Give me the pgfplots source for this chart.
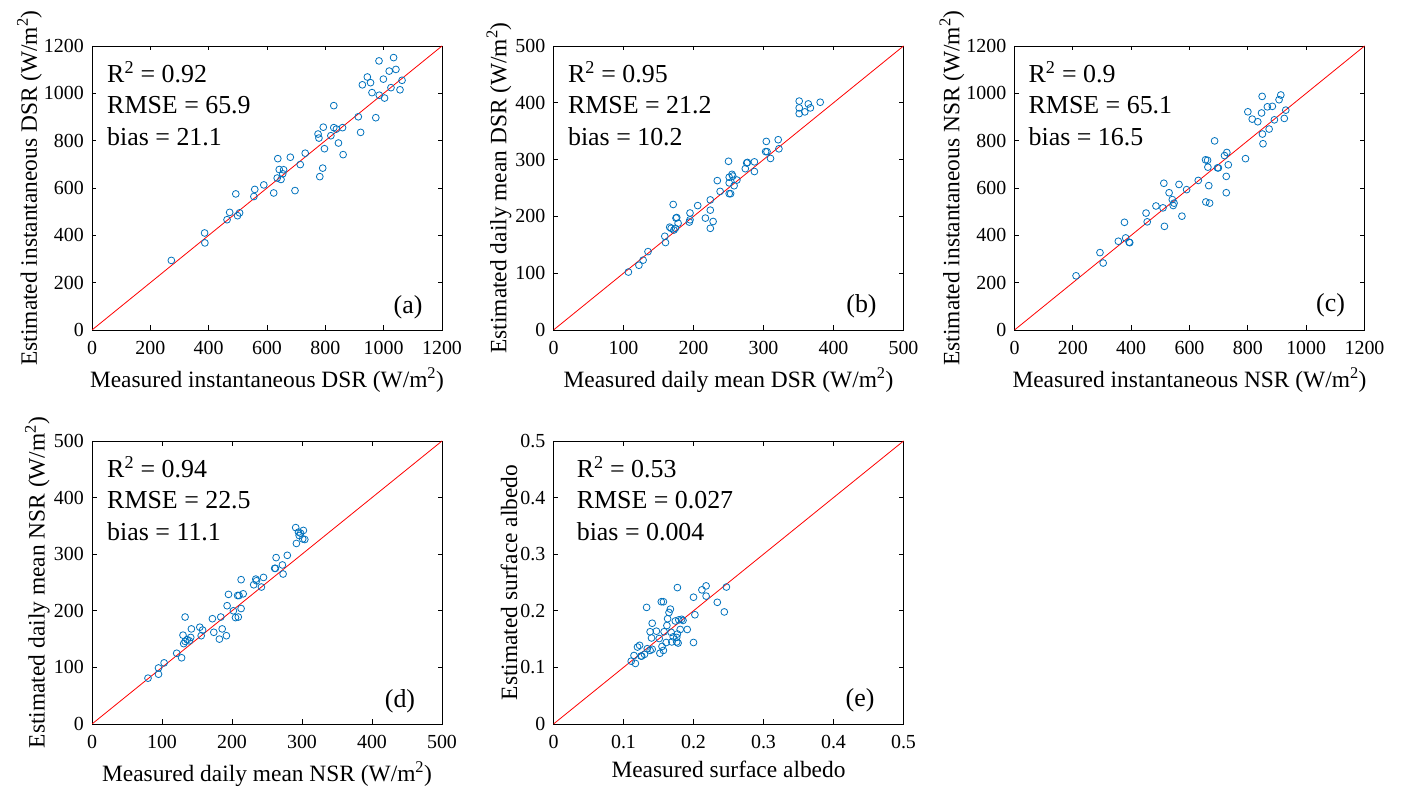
\documentclass[border=0pt]{standalone}
\usepackage{fontspec}
\setmainfont{Liberation Serif}
\usepackage{pgfplots}
\pgfplotsset{compat=1.18}
\definecolor{mblue}{RGB}{0,114,189}

\pgfplotsset{
  sc/.style={
    width=350bp, scale only axis,
    tick align=inside, tick pos=both,
    major tick length=4.5bp,
    axis line style={line width=0.9bp},
    xtick style={draw=black, line width=0.9bp},
    ytick style={draw=black, line width=0.9bp},
    /pgf/number format/assume math mode=true,
    /pgf/number format/1000 sep={},
    tick label style={font=\fontsize{20}{24}\selectfont},
    xticklabel style={inner sep=0pt, yshift=-11bp},
    yticklabel style={inner sep=0pt, xshift=-8bp},
    label style={font=\fontsize{23.5}{28}\selectfont},
    xlabel style={at={(axis description cs:0.5,0)}, yshift=-37bp, anchor=north, inner sep=0pt},
    ylabel style={at={(axis description cs:0,0.5)}, anchor=south, inner sep=0pt},
  },
  sd/.style={only marks, mark=o, mark size=3.4bp, mark options={mblue, line width=0.8bp}},
  ol/.style={red, line width=0.8bp, no marks},
}
\tikzset{
  ann/.style={anchor=base west, font=\fontsize{26}{30}\selectfont, inner sep=0pt},
  tag/.style={anchor=center, font=\fontsize{26}{30}\selectfont, inner sep=0pt},
}

\begin{document}
\begin{tikzpicture}
% (a)
\begin{axis}[sc, at={(92bp,461bp)}, anchor=south west, height=284bp,
  xmin=0, xmax=1200, ymin=0, ymax=1200,
  xtick={0,200,...,1200}, ytick={0,200,...,1200},
  xlabel={Measured instantaneous DSR (W/m\textsuperscript{2})},
  ylabel={Estimated instantaneous DSR (W/m\textsuperscript{2})},
  ylabel style={yshift=50bp}]
\addplot[sd] coordinates {
(272,294) (386,410) (387,368) (463,466) (472,497) (493,575) (499,483) (506,495)
(555,564) (558,594) (589,613) (623,579) (635,642) (637,724) (642,678) (648,636)
(657,677) (654,660) (680,730) (696,589) (714,699) (731,747) (775,828) (778,811)
(781,648) (791,684) (793,857) (797,766) (819,821) (829,948) (829,855) (838,849)
(845,790) (859,855) (861,741) (913,901) (921,835) (927,1036) (944,1069) (955,1045)
(960,1003) (973,897) (984,1137) (985,992) (999,1060) (1003,980) (1019,1094) (1025,1024)
(1034,1151) (1042,1101) (1056,1015) (1063,1055)
};
\addplot[ol] coordinates {(0,0) (1200,1200)};
\node[ann] at (rel axis cs:0.043,0.870) {R\textsuperscript{2} = 0.92};
\node[ann] at (rel axis cs:0.043,0.761) {RMSE = 65.9};
\node[ann] at (rel axis cs:0.043,0.648) {bias = 21.1};
\node[tag] at (rel axis cs:0.903,0.081) {(a)};
\end{axis}
% (b)
\begin{axis}[sc, at={(553.5bp,461bp)}, anchor=south west, height=284bp,
  xmin=0, xmax=500, ymin=0, ymax=500,
  xtick={0,100,...,500}, ytick={0,100,...,500},
  xlabel={Measured daily mean DSR (W/m\textsuperscript{2})},
  ylabel={Estimated daily mean DSR (W/m\textsuperscript{2})},
  ylabel style={yshift=42bp}]
\addplot[sd] coordinates {
(107,102) (122,114) (128,123) (135,138) (159,165) (160,154) (166,181) (168,179)
(171,221) (172,176) (174,179) (175,197) (176,198) (178,188) (194,190) (195,206)
(195,194) (206,219) (217,197) (224,229) (224,211) (224,179) (228,191) (234,263)
(238,244) (250,297) (251,240) (251,269) (251,259) (253,240) (255,274) (256,271)
(258,254) (262,264) (274,284) (276,294) (277,295) (287,296) (287,279) (304,332)
(303,314) (305,314) (310,302) (321,335) (322,319) (351,403) (351,391) (351,381)
(359,384) (364,398) (367,391) (381,401)
};
\addplot[ol] coordinates {(0,0) (500,500)};
\node[ann] at (rel axis cs:0.041,0.870) {R\textsuperscript{2} = 0.95};
\node[ann] at (rel axis cs:0.041,0.761) {RMSE = 21.2};
\node[ann] at (rel axis cs:0.041,0.648) {bias = 10.2};
\node[tag] at (rel axis cs:0.880,0.082) {(b)};
\end{axis}
% (c)
\begin{axis}[sc, at={(1014.5bp,461bp)}, anchor=south west, height=284bp,
  xmin=0, xmax=1200, ymin=0, ymax=1200,
  xtick={0,200,...,1200}, ytick={0,200,...,1200},
  xlabel={Measured instantaneous NSR (W/m\textsuperscript{2})},
  ylabel={Estimated instantaneous NSR (W/m\textsuperscript{2})},
  ylabel style={yshift=50bp}]
\addplot[sd] coordinates {
(211,229) (293,327) (304,283) (356,375) (377,455) (381,389) (393,371) (395,369)
(451,494) (455,457) (485,524) (509,516) (512,620) (514,438) (530,580) (541,551)
(544,526) (547,536) (564,615) (574,481) (590,593) (630,632) (655,719) (662,717)
(656,541) (663,688) (666,610) (669,536) (686,799) (696,685) (699,685) (720,737)
(728,750) (726,649) (726,580) (733,698) (792,724) (800,922) (815,891) (834,880)
(847,917) (849,987) (850,828) (852,787) (867,943) (873,849) (884,945) (891,888)
(907,973) (913,993) (925,894) (930,929)
};
\addplot[ol] coordinates {(0,0) (1200,1200)};
\node[ann] at (rel axis cs:0.040,0.870) {R\textsuperscript{2} = 0.9};
\node[ann] at (rel axis cs:0.040,0.761) {RMSE = 65.1};
\node[ann] at (rel axis cs:0.040,0.648) {bias = 16.5};
\node[tag] at (rel axis cs:0.903,0.088) {(c)};
\end{axis}
% (d)
\begin{axis}[sc, at={(92bp,67bp)}, anchor=south west, height=283bp,
  xmin=0, xmax=500, ymin=0, ymax=500,
  xtick={0,100,...,500}, ytick={0,100,...,500},
  xlabel={Measured daily mean NSR (W/m\textsuperscript{2})},
  ylabel={Estimated daily mean NSR (W/m\textsuperscript{2})},
  ylabel style={yshift=42bp}]
\addplot[sd] coordinates {
(80,81) (95,99) (95,88) (103,108) (121,125) (128,117) (130,157) (133,189)
(131,142) (133,146) (136,149) (139,147) (141,153) (142,168) (154,171) (156,156)
(158,166) (172,186) (174,162) (182,150) (184,189) (186,168) (192,156) (193,209)
(195,229) (202,200) (205,188) (208,227) (209,189) (210,227) (213,255) (213,204)
(216,230) (231,246) (234,256) (235,253) (242,242) (245,259) (261,275) (262,275)
(263,294) (272,281) (273,265) (279,298) (291,347) (292,319) (295,339) (296,333)
(298,337) (302,342) (301,327) (304,326)
};
\addplot[ol] coordinates {(0,0) (500,500)};
\node[ann] at (rel axis cs:0.043,0.870) {R\textsuperscript{2} = 0.94};
\node[ann] at (rel axis cs:0.043,0.761) {RMSE = 22.5};
\node[ann] at (rel axis cs:0.043,0.648) {bias = 11.1};
\node[tag] at (rel axis cs:0.880,0.079) {(d)};
\end{axis}
% (e)
\begin{axis}[sc, at={(553.5bp,67bp)}, anchor=south west, height=283bp,
  xmin=0, xmax=0.5, ymin=0, ymax=0.5,
  xtick={0,0.1,0.2,0.3,0.4,0.5}, ytick={0,0.1,0.2,0.3,0.4,0.5},
  xticklabels={0,0.1,0.2,0.3,0.4,0.5}, yticklabels={0,0.1,0.2,0.3,0.4,0.5},
  xlabel={Measured surface albedo},
  ylabel={Estimated surface albedo},
  ylabel style={yshift=36bp}]
\addplot[sd] coordinates {
(0.111,0.111) (0.115,0.121) (0.117,0.107) (0.120,0.136) (0.123,0.139) (0.125,0.120)
(0.126,0.120) (0.130,0.123) (0.133,0.206) (0.134,0.133) (0.138,0.130) (0.138,0.163)
(0.140,0.152) (0.141,0.132) (0.141,0.178) (0.147,0.164) (0.151,0.151) (0.152,0.125)
(0.154,0.216) (0.155,0.137) (0.157,0.216) (0.157,0.130) (0.158,0.163) (0.162,0.174)
(0.163,0.186) (0.165,0.197) (0.167,0.203) (0.168,0.162) (0.169,0.145) (0.171,0.154)
(0.174,0.182) (0.176,0.153) (0.177,0.241) (0.177,0.159) (0.178,0.143) (0.179,0.184)
(0.181,0.167) (0.183,0.185) (0.185,0.183) (0.191,0.167) (0.200,0.224) (0.200,0.144)
(0.202,0.193) (0.212,0.237) (0.218,0.244) (0.218,0.226) (0.234,0.215) (0.244,0.198)
(0.247,0.242) (0.176,0.145) (0.161,0.144)
};
\addplot[ol] coordinates {(0,0) (0.5,0.5)};
\node[ann] at (rel axis cs:0.066,0.870) {R\textsuperscript{2} = 0.53};
\node[ann] at (rel axis cs:0.066,0.761) {RMSE = 0.027};
\node[ann] at (rel axis cs:0.066,0.648) {bias = 0.004};
\node[tag] at (rel axis cs:0.876,0.085) {(e)};
\end{axis}
\pgfresetboundingbox
\useasboundingbox (0,0) rectangle (1402bp,791bp);
\end{tikzpicture}
\end{document}
